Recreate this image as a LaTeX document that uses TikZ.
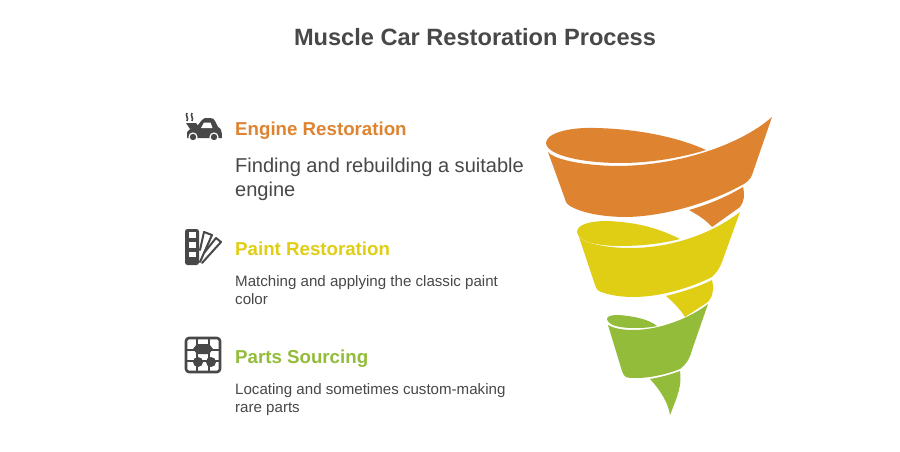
\documentclass[tikz,border=0pt]{standalone}
\usepackage{fontspec}
\setmainfont{Liberation Sans}
\definecolor{ora}{HTML}{DE8431}
\definecolor{yel}{HTML}{E0CE15}
\definecolor{gre}{HTML}{93BC3A}
\definecolor{ink}{HTML}{484848}
\tikzset{
 x=1pt,y=-1pt,
 titletext/.style={anchor=base,text=ink,font=\fontsize{23.6}{28}\selectfont\bfseries},
 headtext/.style={anchor=base west,font=\fontsize{18.7}{23}\selectfont\bfseries,inner sep=0pt},
 bigtext/.style={anchor=base west,text=ink,font=\fontsize{20.05}{25}\selectfont,inner sep=0pt},
 smalltext/.style={anchor=base west,text=ink,font=\fontsize{15.1}{22}\selectfont,inner sep=0pt},
 icon/.style={fill=ink,draw=none},
 iconline/.style={draw=ink,line width=2.2pt,line cap=round,line join=round,fill=none},
}
\begin{document}
\begin{tikzpicture}
\useasboundingbox (0,0) rectangle (900,452);
\fill[white] (0,0) rectangle (900,452);
\node[titletext] (title) at (475,46) {Muscle Car Restoration Process};
% texts
\node[headtext,text=ora] (h1) at (235,135) {Engine Restoration};
\node[bigtext] (b1a) at (235,172) {Finding and rebuilding a suitable};
\node[bigtext] (b1b) at (235,196) {engine};
\node[headtext,text=yel] (h2) at (235,255) {Paint Restoration};
\node[smalltext] (b2a) at (235,286) {Matching and applying the classic paint};
\node[smalltext] (b2b) at (235,304) {color};
\node[headtext,text=gre] (h3) at (235,363) {Parts Sourcing};
\node[smalltext] (b3a) at (235,394) {Locating and sometimes custom-making};
\node[smalltext] (b3b) at (235,412) {rare parts};
% orange
\fill[ora] (546,143) .. controls (546,133) and (570,127) .. (596,128) .. controls (640,129) and (680,138) .. (706,150)
  .. controls (680,158) and (650,163) .. (620,163) .. controls (585,163) and (547,156) .. (546,143) -- cycle;
\fill[ora] (772,117) -- (752,175) .. controls (750,180) and (746,183) .. (742,185)
  .. controls (715,200) and (670,216) .. (627,217) .. controls (600,217) and (580,212) .. (570,206)
  .. controls (567,204) and (566,203) .. (565,199) -- (548,152)
  .. controls (556,161) and (590,166) .. (620,166) .. controls (680,165) and (740,145) .. cycle;
\fill[ora] (689,210) .. controls (710,204) and (728,196) .. (743,187) .. controls (745,195) and (744,202) .. (740,207)
  -- (712,227) .. controls (706,220) and (698,215) .. cycle;
% yellow
\fill[yel] (577,232) .. controls (577,224) and (592,221) .. (606,221) .. controls (640,222) and (662,230) .. (680,239)
  .. controls (660,244) and (640,246) .. (620,246) .. controls (598,246) and (578,242) .. (577,232) -- cycle;
\fill[yel] (740,212) -- (722,262) .. controls (720,268) and (716,273) .. (712,277)
  .. controls (690,288) and (660,297) .. (633,297) .. controls (618,297) and (605,294) .. (599,291)
  .. controls (597,290) and (596,288) .. (595,285) -- (579,237)
  .. controls (586,244) and (608,248) .. (630,248) .. controls (670,248) and (710,235) .. cycle;
\fill[yel] (666,296) .. controls (682,292) and (698,287) .. (712,280) .. controls (714,288) and (713,297) .. (708,302)
  -- (685,317) .. controls (680,309) and (673,302) .. cycle;
% green
\fill[gre] (607,319) .. controls (607,316) and (612,315) .. (618,315) .. controls (635,316) and (650,320) .. (657,326)
  .. controls (648,328) and (640,328) .. (633,328) .. controls (622,328) and (608,326) .. (607,319) -- cycle;
\fill[gre] (708,304) -- (692,350) .. controls (690,358) and (686,365) .. (680,369)
  .. controls (668,374) and (650,378) .. (637,378) .. controls (632,378) and (628,378) .. (626,377)
  .. controls (624,376) and (623,374) .. (622,371) -- (608,325)
  .. controls (615,329) and (625,330) .. (633,330) .. controls (660,330) and (690,318) .. cycle;
\fill[gre] (650,379) .. controls (662,377) and (672,374) .. (680,371) .. controls (682,385) and (678,395) .. (670,415)
  .. controls (668,402) and (660,390) .. cycle;
% car icon
\fill[icon] (187,132) .. controls (190,128) and (196,127) .. (198,125) -- (202,120) .. controls (203,118) and (205,118) .. (210,118)
  .. controls (213,118) and (214,119) .. (215,121) -- (218,127) .. controls (221,128) and (222,131) .. (222,138)
  -- (187,138) -- cycle;
\fill[icon] (186,123) -- (196,123) -- (199,127) -- (190,129) -- cycle;
\fill[white] (201,128) -- (204,122.5) -- (210.5,122.5) -- (212.5,128) -- cycle;
\fill[white] (193,137) circle[radius=4.6];
\fill[white] (214,137) circle[radius=4.6];
\fill[icon] (193,137) circle[radius=3.2];
\fill[icon] (214,137) circle[radius=3.2];
\draw[ink,line width=1.6pt] (187,113) .. controls (185,116) and (189,118) .. (187,121);
\draw[ink,line width=1.6pt] (192,113) .. controls (190,116) and (194,118) .. (192,121);
% swatch icon
\fill[icon,rounded corners=2.5pt] (185,229) rectangle (199,265);
\fill[white] (189,232) rectangle (196,238);
\fill[white] (189,242) rectangle (196,248);
\fill[white] (189,251.5) rectangle (196,257);
\draw[iconline,line width=2pt] (204,232) -- (212,235) -- (200,262);
\draw[iconline,line width=2pt] (204,232) -- (200,250);
\draw[iconline,line width=2pt] (216,238) -- (221,242) -- (202,263);
\draw[iconline,line width=2pt] (216,238) -- (204,253);
% parts icon
\draw[iconline,line width=2.6pt,rounded corners=3pt] (186,338) rectangle (220,372);
\draw[ink,line width=1.8pt] (197,338) -- (197,372) (209,338) -- (209,372) (186,350) -- (220,350) (186,361) -- (220,361);
\fill[icon] (193,349) -- (197,344) -- (209,344) -- (213,349) -- (209,354) -- (197,354) -- cycle;
\fill[icon] (198,362) circle[radius=5];
\fill[icon] (211,362) circle[radius=5];
\end{tikzpicture}
\end{document}
